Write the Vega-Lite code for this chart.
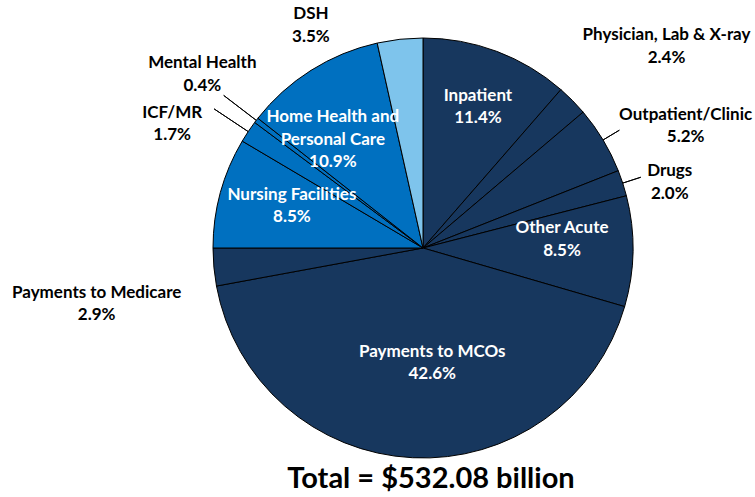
{
  "$schema": "https://vega.github.io/schema/vega-lite/v6.json",
  "width": 664,
  "height": 440,
  "autosize": "none",
  "padding": {"left": 91, "top": 28, "right": 0, "bottom": 29},
  "background": "white",
  "title": {"text": "Total = $532.08 billion", "orient": "bottom", "anchor": "middle", "frame": "group", "font": "Lato", "fontWeight": "bold", "fontSize": 29, "color": "black", "baseline": "alphabetic", "offset": 20, "dx": 8},
  "data": {"values": [
    {"order": 1, "category": "Inpatient", "group": "Acute", "value": 11.4, "label": "Inpatient\n11.4%"},
    {"order": 2, "category": "Physician, Lab & X-ray", "group": "Acute", "value": 2.4, "label": "Physician, Lab & X-ray\n2.4%"},
    {"order": 3, "category": "Outpatient/Clinic", "group": "Acute", "value": 5.2, "label": "Outpatient/Clinic\n5.2%"},
    {"order": 4, "category": "Drugs", "group": "Acute", "value": 2.0, "label": "Drugs\n2.0%"},
    {"order": 5, "category": "Other Acute", "group": "Acute", "value": 8.5, "label": "Other Acute\n8.5%"},
    {"order": 6, "category": "Payments to MCOs", "group": "Acute", "value": 42.6, "label": "Payments to MCOs\n42.6%"},
    {"order": 7, "category": "Payments to Medicare", "group": "Acute", "value": 2.9, "label": "Payments to Medicare\n2.9%"},
    {"order": 8, "category": "Nursing Facilities", "group": "Long-Term Care", "value": 8.5, "label": "Nursing Facilities\n8.5%"},
    {"order": 9, "category": "ICF/MR", "group": "Long-Term Care", "value": 1.7, "label": "ICF/MR\n1.7%"},
    {"order": 10, "category": "Mental Health", "group": "Long-Term Care", "value": 0.4, "label": "Mental Health\n0.4%"},
    {"order": 11, "category": "Home Health and Personal Care", "group": "Long-Term Care", "value": 10.9, "label": "Home Health and\nPersonal Care\n10.9%"},
    {"order": 12, "category": "DSH", "group": "DSH", "value": 3.5, "label": "DSH\n3.5%"}
  ]},
  "encoding": {
    "theta": {"field": "value", "type": "quantitative", "stack": true},
    "order": {"field": "order", "type": "quantitative"},
    "detail": {"field": "category", "type": "nominal"}
  },
  "layer": [
    {"mark": {"type": "arc", "outerRadius": 210, "stroke": "black", "strokeWidth": 1},
     "encoding": {"color": {"field": "group", "type": "nominal", "legend": null,
       "scale": {"domain": ["Acute", "Long-Term Care", "DSH"], "range": ["#17375E", "#0070C0", "#7EC4EC"]}}}},
    {"mark": {"type": "arc", "innerRadius": 210, "outerRadius": 229, "padAngle": 0.5, "fill": "transparent", "strokeWidth": 1, "clip": true},
     "encoding": {"stroke": {"condition": {"test": "datum.category === 'Drugs' || datum.category === 'Outpatient/Clinic'", "value": "black"}, "value": "transparent"}}},
    {"mark": {"type": "arc", "innerRadius": 210, "outerRadius": 251, "padAngle": 0.5, "fill": "transparent", "strokeWidth": 1, "clip": true},
     "encoding": {"stroke": {"condition": {"test": "datum.category === 'Mental Health' || datum.category === 'ICF/MR'", "value": "black"}, "value": "transparent"}}},
    {"mark": {"type": "text", "radius": 151, "dx": 2, "dy": -11, "fill": "white"},
     "encoding": {"text": {"condition": {"test": "datum.category === 'Inpatient'", "field": "label"}, "value": ""}}},
    {"mark": {"type": "text", "radius": 139, "dx": 0, "dy": -22, "fill": "white"},
     "encoding": {"text": {"condition": {"test": "datum.category === 'Other Acute'", "field": "label"}, "value": ""}}},
    {"mark": {"type": "text", "radius": 115, "dx": 15, "dy": -11, "fill": "white"},
     "encoding": {"text": {"condition": {"test": "datum.category === 'Payments to MCOs'", "field": "label"}, "value": ""}}},
    {"mark": {"type": "text", "radius": 138, "dx": 2, "dy": -17, "fill": "white"},
     "encoding": {"text": {"condition": {"test": "datum.category === 'Nursing Facilities'", "field": "label"}, "value": ""}}},
    {"mark": {"type": "text", "radius": 141, "dx": -15, "dy": -11.5, "fill": "white"},
     "encoding": {"text": {"condition": {"test": "datum.category === 'Home Health and Personal Care'", "field": "label"}, "value": ""}}},
    {"mark": {"type": "text", "radius": 220, "dx": 87, "dy": -58, "fill": "black"},
     "encoding": {"text": {"condition": {"test": "datum.category === 'Physician, Lab & X-ray'", "field": "label"}, "value": ""}}},
    {"mark": {"type": "text", "radius": 220, "dx": 74, "dy": -20, "fill": "black"},
     "encoding": {"text": {"condition": {"test": "datum.category === 'Outpatient/Clinic'", "field": "label"}, "value": ""}}},
    {"mark": {"type": "text", "radius": 210, "dx": 47, "dy": -12, "fill": "black"},
     "encoding": {"text": {"condition": {"test": "datum.category === 'Drugs'", "field": "label"}, "value": ""}}},
    {"mark": {"type": "text", "radius": 160, "dx": -167, "dy": 30, "fill": "black"},
     "encoding": {"text": {"condition": {"test": "datum.category === 'Payments to Medicare'", "field": "label"}, "value": ""}}},
    {"mark": {"type": "text", "radius": 210, "dx": -76, "dy": -19, "fill": "black"},
     "encoding": {"text": {"condition": {"test": "datum.category === 'ICF/MR'", "field": "label"}, "value": ""}}},
    {"mark": {"type": "text", "radius": 220, "dx": -46, "dy": -51, "fill": "black"},
     "encoding": {"text": {"condition": {"test": "datum.category === 'Mental Health'", "field": "label"}, "value": ""}}},
    {"mark": {"type": "text", "radius": 210, "dx": -89, "dy": -25, "fill": "black"},
     "encoding": {"text": {"condition": {"test": "datum.category === 'DSH'", "field": "label"}, "value": ""}}}
  ],
  "config": {
    "view": {"stroke": null},
    "text": {"font": "Lato", "fontWeight": "bold", "fontSize": 17, "lineHeight": 22.5, "align": "center", "baseline": "middle", "lineBreak": "\n"}
  }
}
